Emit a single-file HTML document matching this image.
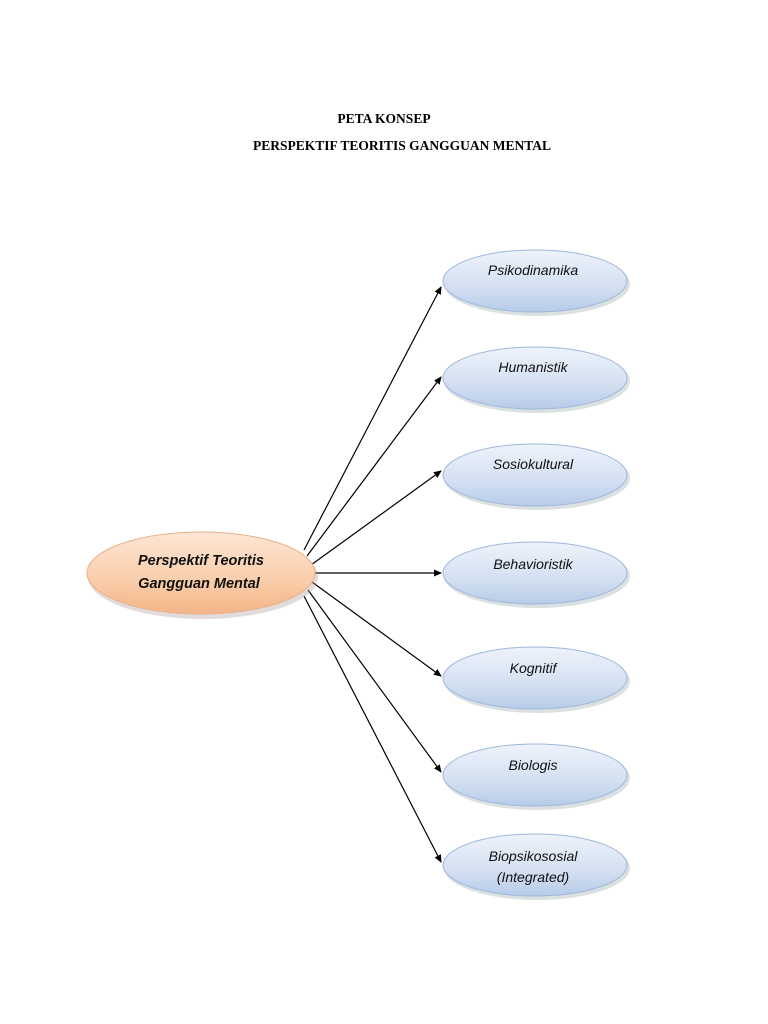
<!DOCTYPE html>
<html><head><meta charset="utf-8"><style>
body{margin:0;background:#fff;width:768px;height:1024px;overflow:hidden}
svg{display:block}
</style></head><body>
<svg width="768" height="1024" viewBox="0 0 768 1024" xmlns="http://www.w3.org/2000/svg">
<defs>
<linearGradient id="b" x1="0" y1="0" x2="0" y2="1">
<stop offset="0" stop-color="#eef3fb"/><stop offset="0.6" stop-color="#d3e0f2"/><stop offset="1" stop-color="#b7cbe8"/></linearGradient>
<linearGradient id="o" x1="0" y1="0" x2="0" y2="1">
<stop offset="0" stop-color="#fde6d6"/><stop offset="0.6" stop-color="#f9cdaa"/><stop offset="1" stop-color="#f4b487"/></linearGradient>
<marker id="a" markerWidth="8" markerHeight="8" refX="7" refY="4" orient="auto" markerUnits="userSpaceOnUse"><path d="M0,0.5 L8,4 L0,7.5z" fill="#000"/></marker>
</defs>
<text x="384" y="123" text-anchor="middle" font-family="Liberation Serif" font-weight="bold" font-size="13.5">PETA KONSEP</text>
<text x="402" y="150" text-anchor="middle" font-family="Liberation Serif" font-weight="bold" font-size="13.5">PERSPEKTIF TEORITIS GANGGUAN MENTAL</text>
<g stroke="#000" stroke-width="1.2" fill="none" marker-end="url(#a)">
<line x1="304" y1="550" x2="441" y2="287"/>
<line x1="307" y1="556" x2="441" y2="377"/>
<line x1="311" y1="565" x2="441" y2="471"/>
<line x1="315" y1="573" x2="441" y2="573"/>
<line x1="312" y1="582" x2="441" y2="676"/>
<line x1="308" y1="590" x2="441" y2="772"/>
<line x1="304" y1="596" x2="441" y2="862"/>
</g>
<g font-family="Liberation Sans" font-style="italic" font-size="14" text-anchor="middle" fill="#111">
<g>
<ellipse cx="537" cy="284" rx="93" ry="32" fill="#9aa" opacity="0.35"/>
<ellipse cx="535" cy="281" rx="92" ry="31" fill="url(#b)" stroke="#9db7dc" stroke-width="1"/>
<text x="533" y="275">Psikodinamika</text>
</g>
<g>
<ellipse cx="537" cy="381" rx="93" ry="32" fill="#9aa" opacity="0.35"/>
<ellipse cx="535" cy="378" rx="92" ry="31" fill="url(#b)" stroke="#9db7dc"/>
<text x="533" y="372">Humanistik</text>
</g>
<g>
<ellipse cx="537" cy="478" rx="93" ry="32" fill="#9aa" opacity="0.35"/>
<ellipse cx="535" cy="475" rx="92" ry="31" fill="url(#b)" stroke="#9db7dc"/>
<text x="533" y="469">Sosiokultural</text>
</g>
<g>
<ellipse cx="537" cy="576" rx="93" ry="32" fill="#9aa" opacity="0.35"/>
<ellipse cx="535" cy="573" rx="92" ry="31" fill="url(#b)" stroke="#9db7dc"/>
<text x="533" y="569">Behavioristik</text>
</g>
<g>
<ellipse cx="537" cy="681" rx="93" ry="32" fill="#9aa" opacity="0.35"/>
<ellipse cx="535" cy="678" rx="92" ry="31" fill="url(#b)" stroke="#9db7dc"/>
<text x="533" y="673">Kognitif</text>
</g>
<g>
<ellipse cx="537" cy="778" rx="93" ry="32" fill="#9aa" opacity="0.35"/>
<ellipse cx="535" cy="775" rx="92" ry="31" fill="url(#b)" stroke="#9db7dc"/>
<text x="533" y="770">Biologis</text>
</g>
<g>
<ellipse cx="537" cy="868" rx="93" ry="32" fill="#9aa" opacity="0.35"/>
<ellipse cx="535" cy="865" rx="92" ry="31" fill="url(#b)" stroke="#9db7dc"/>
<text x="533" y="861">Biopsikososial</text>
<text x="533" y="882">(Integrated)</text>
</g>
<g>
<ellipse cx="203" cy="577" rx="115" ry="42" fill="#a99" opacity="0.35"/>
<ellipse cx="201" cy="573" rx="114" ry="41" fill="url(#o)" stroke="#eab08a"/>
<text x="201" y="565" font-weight="bold" font-size="14.5">Perspektif Teoritis</text>
<text x="199" y="588" font-weight="bold" font-size="14.5">Gangguan Mental</text>
</g>
</g>
</svg>
</body></html>
